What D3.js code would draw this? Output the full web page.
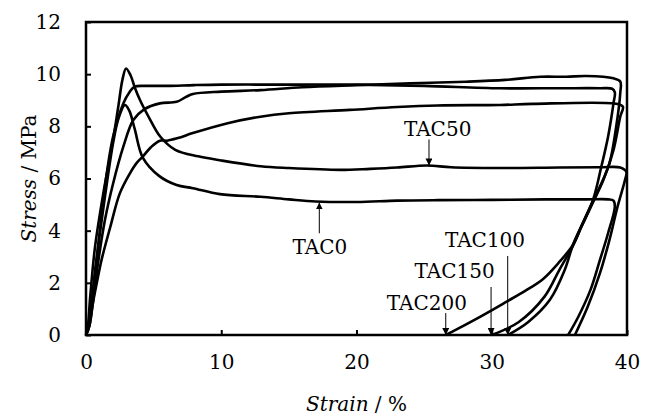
<!DOCTYPE html>
<html>
<head>
<meta charset="utf-8">
<script src="https://cdn.jsdelivr.net/npm/d3@7"></script>
<style>
  body { margin: 0; background: #fff; }
  svg { display: block; }
</style>
</head>
<body>
<svg id="chart" width="647" height="416"></svg>
<script>
// Tick values for both axes
const xTicks = [0, 10, 20, 30, 40];
const yTicks = [0, 2, 4, 6, 8, 10, 12];

// Sample names
const samples = ["TAC0", "TAC50", "TAC100", "TAC150", "TAC200"];

// Loading–unloading stress–strain curves, [strain %, stress MPa]
const tac0 = [
  [0, 0], [0.2, 0.4], [0.4, 1.2], [0.7, 2.6], [1.0, 3.8], [1.4, 5.3], [2.0, 7.35],
  [2.4, 8.3], [2.88, 8.82], [3.2, 8.6], [3.6, 7.9], [4.2, 6.8], [5.4, 6.1],
  [6.7, 5.75], [7.9, 5.63], [9.9, 5.4], [12.9, 5.3], [15, 5.2], [17, 5.12],
  [20, 5.1], [23, 5.15], [26, 5.17], [30, 5.18], [34, 5.2], [37, 5.2],
  [38.6, 5.2], [39.0, 5.15], [39.1, 4.92], [38.6, 3.9], [38.0, 2.88],
  [37.3, 1.73], [36.4, 0.7], [35.65, 0]
];
const tac50 = [
  [0, 0], [0.15, 0.4], [0.3, 1.4], [0.67, 3.39], [1.28, 5.43], [2.0, 7.48],
  [2.4, 8.8], [2.7, 9.8], [2.96, 10.22], [3.3, 9.95], [3.6, 9.5], [4.0, 9.0],
  [4.7, 8.3], [5.5, 7.6], [6.6, 7.1], [8.3, 6.85], [9.9, 6.7], [12.9, 6.47],
  [15, 6.4], [18.8, 6.33], [21, 6.37], [23, 6.42], [25.2, 6.5], [27, 6.43],
  [30.6, 6.4], [35, 6.42], [38, 6.43], [39.5, 6.42], [39.95, 6.25],
  [39.85, 5.94], [39.3, 4.92], [38.7, 3.64], [38.0, 2.37], [37.1, 1.09], [36.15, 0]
];
const tac100 = [
  [0, 0], [0.25, 0.35], [0.5, 1.2], [0.9, 2.8], [1.4, 4.41], [2.0, 5.8],
  [2.76, 7.22], [3.5, 8.24], [4.3, 8.65], [5.46, 8.88], [6.7, 8.94], [7.4, 9.13],
  [7.9, 9.24], [10, 9.33], [12.9, 9.39], [16, 9.5], [20, 9.58], [24, 9.65],
  [28.1, 9.71], [31, 9.78], [33.6, 9.9], [35.5, 9.9], [37, 9.93], [39, 9.84],
  [39.5, 9.72], [39.5, 9.27], [39.2, 7.99], [38.7, 6.58], [38.0, 5.69],
  [37.5, 5.15], [36.6, 4.15], [36.0, 3.45], [35.4, 2.5], [34.3, 1.35],
  [32.7, 0.5], [31.2, 0]
];
const tac150 = [
  [0, 0], [0.2, 0.3], [0.45, 1.3], [0.8, 2.9], [1.4, 5.69], [2.0, 7.6],
  [2.76, 8.88], [3.2, 9.3], [3.6, 9.52], [4.5, 9.55], [6, 9.55], [8, 9.58],
  [10, 9.6], [13, 9.6], [16, 9.6], [20, 9.6], [25, 9.55], [30.6, 9.46],
  [35, 9.46], [38, 9.46], [38.9, 9.44], [39.1, 9.3], [39.0, 8.88], [38.6, 7.6],
  [38.1, 6.45], [37.5, 5.2], [36.6, 4.12], [36.0, 3.42], [35.0, 2.5],
  [33.9, 1.47], [32.0, 0.5], [30.0, 0]
];
const tac200 = [
  [0, 0], [0.25, 0.35], [0.5, 1.2], [0.8, 2.0], [1.15, 2.88], [1.8, 4.15],
  [2.5, 5.43], [3.25, 6.2], [3.75, 6.6], [4.2, 6.84], [4.8, 7.2], [5.46, 7.45],
  [6.0, 7.45], [6.8, 7.55], [7.9, 7.74], [10.4, 8.11], [12.9, 8.37], [15, 8.5],
  [19.5, 8.63], [23, 8.74], [26, 8.8], [30.6, 8.82], [33, 8.86], [39.3, 8.86],
  [39.7, 8.75], [39.5, 8.37], [39.0, 7.09], [38.25, 5.94], [37.5, 5.1],
  [36.6, 4.12], [36.0, 3.45], [35.0, 2.8], [33.8, 2.15], [32.5, 1.7],
  [31.0, 1.25], [29.5, 0.8], [27.9, 0.35], [26.6, 0]
];
const curves = [tac0, tac50, tac100, tac150, tac200];

const svg = d3.select("#chart");
const plot = { left: 86, right: 627, top: 22, bottom: 335 };
const fontFamily = '"DejaVu Serif", "Liberation Serif", serif';
const fontSize = "20px";

const x = d3.scaleLinear().domain([0, 40]).range([plot.left, plot.right]);
const y = d3.scaleLinear().domain([0, 12]).range([plot.bottom, plot.top]);

// Arrowhead marker
svg.append("defs").append("marker")
  .attr("id", "head")
  .attr("viewBox", "0 0 10 10")
  .attr("refX", 10).attr("refY", 5)
  .attr("markerWidth", 7).attr("markerHeight", 7)
  .attr("markerUnits", "userSpaceOnUse")
  .attr("orient", "auto")
  .append("path").attr("d", "M0,0L10,5L0,10Z").attr("fill", "#000");

// Axes with inward ticks
const yAxis = d3.axisLeft(y).tickValues(yTicks).tickSizeInner(-5).tickSizeOuter(0).tickPadding(25);
const xAxis = d3.axisBottom(x).tickValues(xTicks).tickSizeInner(-5).tickSizeOuter(0).tickPadding(20);

const gy = svg.append("g").attr("transform", `translate(${plot.left},0)`).call(yAxis);
const gx = svg.append("g").attr("transform", `translate(0,${plot.bottom})`).call(xAxis);
[gx, gy].forEach(g => {
  g.select(".domain").remove();
  g.selectAll(".tick line").attr("stroke", "#000").attr("stroke-width", 2);
  g.selectAll(".tick text")
    .style("font-family", fontFamily)
    .style("font-size", fontSize)
    .attr("fill", "#000");
});

// Curves
const line = d3.line()
  .x(d => x(d[0]))
  .y(d => y(d[1]))
  .curve(d3.curveCatmullRom.alpha(0.5));

svg.append("g").selectAll("path")
  .data(curves)
  .join("path")
  .attr("d", line)
  .attr("fill", "none")
  .attr("stroke", "#000")
  .attr("stroke-width", 2.6)
  .attr("stroke-linejoin", "round");

// Plot frame
svg.append("rect")
  .attr("x", plot.left).attr("y", plot.top)
  .attr("width", plot.right - plot.left).attr("height", plot.bottom - plot.top)
  .attr("fill", "none").attr("stroke", "#000").attr("stroke-width", 2.5);

// Sample labels with pointer arrows: label anchor and arrow, in data units
const notes = [
  { name: samples[0], tx: 17.3, ty: 3.1, ax: 17.25, a0: 3.9, a1: 5.08 },
  { name: samples[1], tx: 26.0, ty: 7.63, ax: 25.36, a0: 7.5, a1: 6.5 },
  { name: samples[2], tx: 29.5, ty: 3.37, ax: 31.18, a0: 3.03, a1: 0 },
  { name: samples[3], tx: 27.25, ty: 2.19, ax: 29.95, a0: 1.84, a1: 0 },
  { name: samples[4], tx: 25.2, ty: 0.96, ax: 26.6, a0: 0.84, a1: 0 }
];
const ng = svg.append("g");
notes.forEach(n => {
  ng.append("line")
    .attr("x1", x(n.ax)).attr("x2", x(n.ax))
    .attr("y1", y(n.a0)).attr("y2", y(n.a1))
    .attr("stroke", "#000").attr("stroke-width", 1)
    .attr("marker-end", "url(#head)");
  ng.append("text")
    .attr("x", x(n.tx)).attr("y", y(n.ty))
    .attr("text-anchor", "middle")
    .style("font-family", fontFamily)
    .style("font-size", fontSize)
    .text(n.name);
});

// Axis titles
const yt = svg.append("text")
  .attr("transform", `translate(36,${(plot.top + plot.bottom) / 2}) rotate(-90)`)
  .attr("text-anchor", "middle")
  .style("font-family", fontFamily)
  .style("font-size", fontSize);
yt.append("tspan").style("font-style", "italic").text("Stress");
yt.append("tspan").text(" / MPa");

const xt = svg.append("text")
  .attr("x", (plot.left + plot.right) / 2).attr("y", 411)
  .attr("text-anchor", "middle")
  .style("font-family", fontFamily)
  .style("font-size", fontSize);
xt.append("tspan").style("font-style", "italic").text("Strain");
xt.append("tspan").text(" / %");
</script>
</body>
</html>
